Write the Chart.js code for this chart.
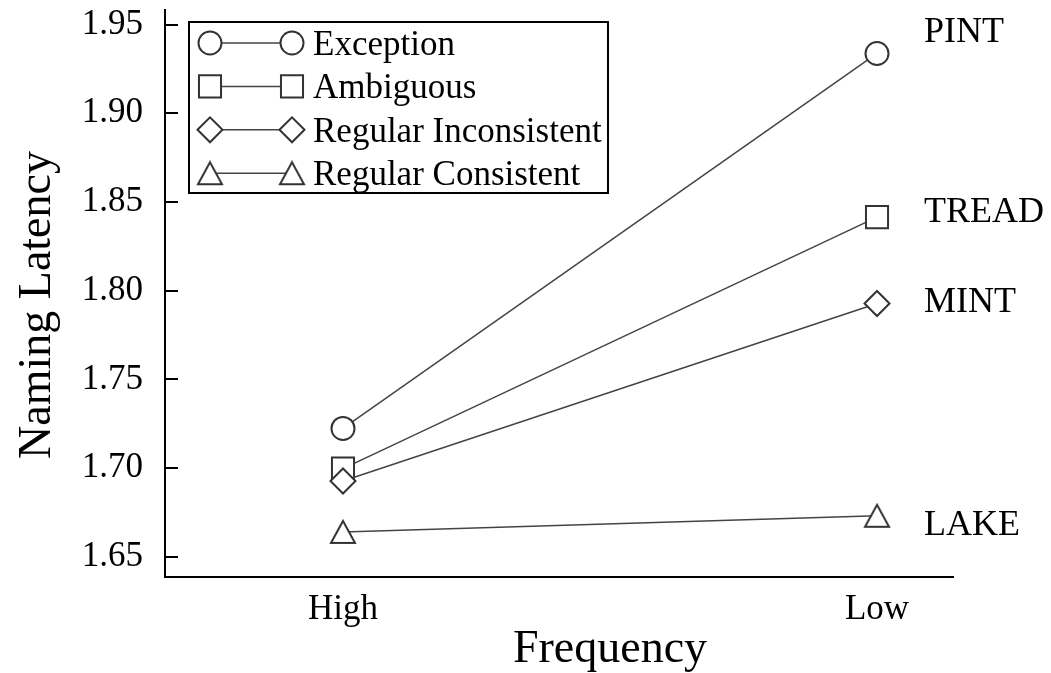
<!DOCTYPE html>
<html>
<head>
<meta charset="utf-8">
<script src="https://cdn.jsdelivr.net/npm/chart.js@4.4.1/dist/chart.umd.min.js"></script>
<style>
  html, body { margin: 0; padding: 0; background: #fff; }
  #wrap { width: 1051px; height: 673px; position: relative; }
</style>
</head>
<body>
<div id="wrap"><canvas id="c"></canvas></div>
<script>
// Mean naming latency by word frequency for four spelling-sound classes
const frequencyLabels = ['High', 'Low'];
const seriesNames = ['Exception', 'Ambiguous', 'Regular Inconsistent', 'Regular Consistent'];
const exampleWords = ['PINT', 'TREAD', 'MINT', 'LAKE'];
const exception = [1.7224, 1.9337];
const ambiguous = [1.6998, 1.8415];
const regularInconsistent = [1.6928, 1.7928];
const regularConsistent = [1.6641, 1.6732];
const latencyTicks = [1.65, 1.70, 1.75, 1.80, 1.85, 1.90, 1.95];

const SERIF = '"Liberation Serif", "Times New Roman", serif';
const MARK = '#333';
const LINE = '#444';

// Open triangle marker, centred on its bounding box
function makeTriangle() {
  const cv = document.createElement('canvas');
  cv.width = 28; cv.height = 26;
  const g = cv.getContext('2d');
  g.fillStyle = '#fff';
  g.strokeStyle = MARK;
  g.lineWidth = 2;
  g.lineJoin = 'miter';
  g.beginPath();
  g.moveTo(14, 2);
  g.lineTo(2, 24);
  g.lineTo(26, 24);
  g.closePath();
  g.fill();
  g.stroke();
  return cv;
}
const triangle = makeTriangle();

function series(name, values, style, radius, order) {
  return {
    label: name,
    data: values.map((v, i) => ({ x: i, y: v })),
    borderColor: LINE,
    borderWidth: 1.5,
    pointStyle: style,
    pointRadius: radius,
    pointHoverRadius: radius,
    pointBackgroundColor: '#fff',
    pointBorderColor: MARK,
    pointBorderWidth: 2,
    order: order,
    clip: false
  };
}

const datasets = [
  series(seriesNames[0], exception, 'circle', 11.5, 0),
  series(seriesNames[1], ambiguous, 'rect', 15.6, 2),
  series(seriesNames[2], regularInconsistent, 'rectRot', 12.5, 1),
  series(seriesNames[3], regularConsistent, triangle, 13, 3)
];

// Short tick marks pointing into the plot from the y axis
const innerTicks = {
  id: 'innerTicks',
  afterDraw(chart) {
    const { ctx, chartArea, scales } = chart;
    ctx.save();
    ctx.strokeStyle = '#000';
    ctx.lineWidth = 2;
    latencyTicks.forEach(v => {
      const y = Math.round(scales.y.getPixelForValue(v));
      ctx.beginPath();
      ctx.moveTo(chartArea.left, y);
      ctx.lineTo(chartArea.left + 13, y);
      ctx.stroke();
    });
    ctx.restore();
  }
};

// Axis titles, word examples beside the low-frequency points, and the boxed key
const annotations = {
  id: 'annotations',
  afterDraw(chart) {
    const { ctx, chartArea, scales } = chart;
    const xs = scales.x, ys = scales.y;
    ctx.save();
    ctx.fillStyle = '#000';

    // x title, centred between the two frequency positions
    ctx.font = '46px ' + SERIF;
    ctx.textAlign = 'center';
    ctx.textBaseline = 'alphabetic';
    const midX = (xs.getPixelForValue(0) + xs.getPixelForValue(1)) / 2;
    ctx.fillText('Frequency', midX, 662);

    // y title
    ctx.save();
    ctx.translate(50, 305);
    ctx.rotate(-Math.PI / 2);
    ctx.fillText('Naming Latency', 0, 0);
    ctx.restore();

    // example words next to the last point of each series
    const nudge = [-23, -7, -4, 7];
    ctx.font = '36px ' + SERIF;
    ctx.textAlign = 'left';
    ctx.textBaseline = 'alphabetic';
    chart.data.datasets.forEach((ds, i) => {
      const last = ds.data[ds.data.length - 1];
      const px = xs.getPixelForValue(last.x) + 47;
      const py = ys.getPixelForValue(last.y) + nudge[i];
      ctx.fillText(exampleWords[i], px, py + 12);
    });

    // key
    const boxL = chartArea.left + 24, boxT = chartArea.top + 12;
    const boxW = 419, boxH = 171;
    ctx.strokeStyle = '#000';
    ctx.lineWidth = 2;
    ctx.strokeRect(boxL, boxT, boxW, boxH);
    ctx.font = '35px ' + SERIF;
    chart.data.datasets.forEach((ds, i) => {
      const cy = boxT + 21 + i * 43.4;
      const x1 = boxL + 21, x2 = boxL + 103;
      ctx.strokeStyle = LINE;
      ctx.lineWidth = 1.5;
      ctx.beginPath();
      ctx.moveTo(x1, cy);
      ctx.lineTo(x2, cy);
      ctx.stroke();
      ctx.strokeStyle = MARK;
      ctx.fillStyle = '#fff';
      ctx.lineWidth = 2;
      const opts = { pointStyle: ds.pointStyle, radius: ds.pointRadius, borderWidth: 2 };
      Chart.helpers.drawPoint(ctx, opts, x1, cy);
      Chart.helpers.drawPoint(ctx, opts, x2, cy);
      ctx.fillStyle = '#000';
      ctx.fillText(ds.label, boxL + 124, cy + 12);
    });
    ctx.restore();
  }
};

new Chart(document.getElementById('c'), {
  type: 'line',
  data: { datasets },
  plugins: [innerTicks, annotations],
  options: {
    responsive: true,
    maintainAspectRatio: false,
    animation: false,
    events: [],
    layout: { autoPadding: false, padding: { top: 10, right: 98, bottom: 0, left: 0 } },
    plugins: { legend: { display: false }, tooltip: { enabled: false } },
    scales: {
      x: {
        type: 'linear',
        min: -0.3333,
        max: 1.1423,
        afterBuildTicks: s => { s.ticks = frequencyLabels.map((_, i) => ({ value: i })); },
        afterFit: s => { s.height = 96; s.paddingLeft = 0; s.paddingRight = 0; },
        grid: { display: false, drawTicks: false },
        border: { display: true, color: '#000', width: 2 },
        ticks: {
          padding: 12,
          color: '#000',
          font: { family: SERIF, size: 35 },
          maxRotation: 0,
          callback: v => frequencyLabels[v]
        }
      },
      y: {
        min: 1.6387,
        max: 1.9582,
        afterBuildTicks: s => { s.ticks = latencyTicks.map(v => ({ value: v })); },
        afterFit: s => { s.width = 165; s.paddingTop = 0; s.paddingBottom = 0; },
        grid: { display: false, drawTicks: false },
        border: { display: true, color: '#000', width: 2 },
        ticks: {
          padding: 22,
          color: '#000',
          font: { family: SERIF, size: 35, lineHeight: 0.5 },
          callback: v => v.toFixed(2)
        }
      }
    }
  }
});
</script>
</body>
</html>
